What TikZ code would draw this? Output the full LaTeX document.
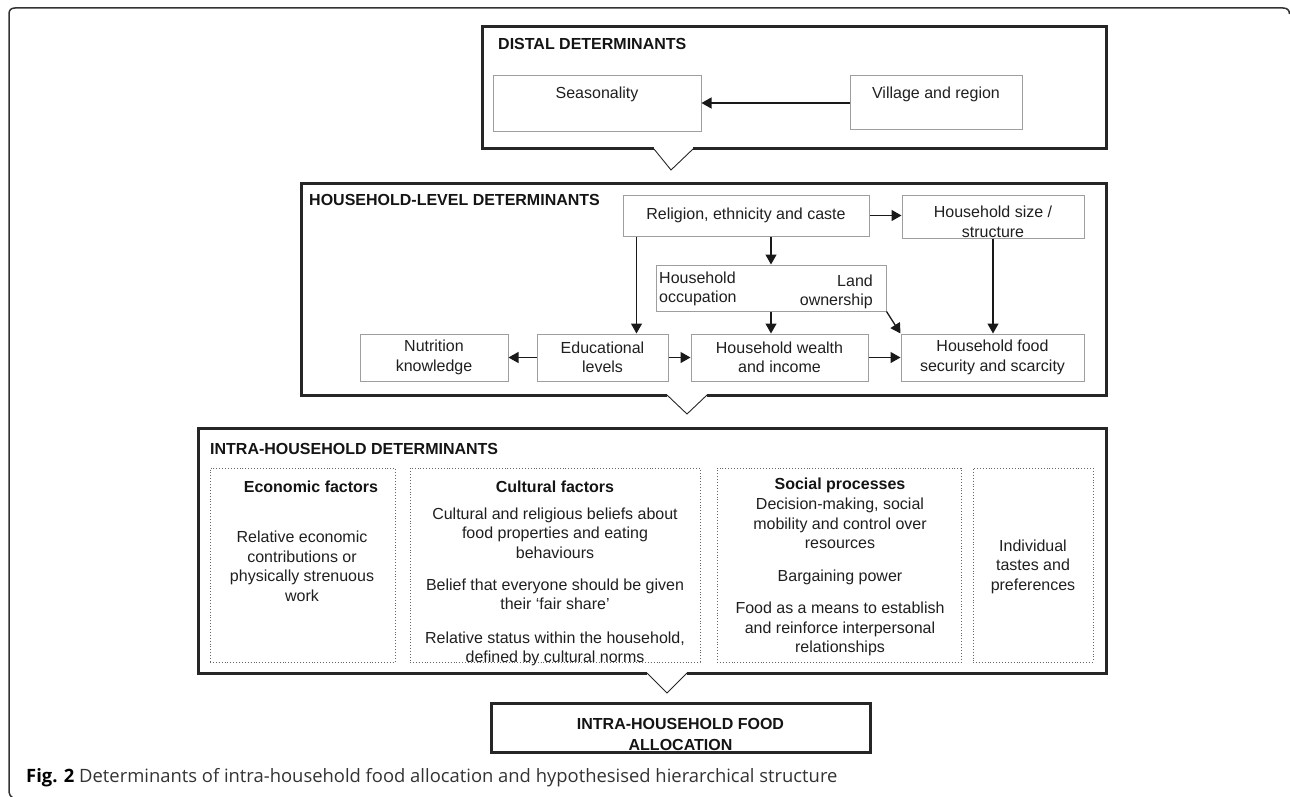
\documentclass[tikz,border=0pt]{standalone}
\usepackage{fontspec}
\setmainfont{Liberation Sans}
\newfontfamily\capfont{Open Sans}
\usetikzlibrary{arrows.meta}
\newcommand\myfs{\fontsize{16}{19.5}\selectfont}
\begin{document}
\begin{tikzpicture}[x=1pt,y=-1pt,
  frame/.style={line width=1.5pt,draw=black!80},
  lvl/.style={line width=3pt,draw=black!85},
  vee/.style={line width=0.9pt,draw=black!85},
  ibox/.style={draw=black!38,line width=1pt,inner sep=0pt,font=\myfs,align=center,text=black!88},
  dbox/.style={draw=black!60,dotted,line width=0.9pt,inner sep=0pt},
  txt/.style={font=\myfs,align=center,inner sep=0pt,text=black!88},
  btxt/.style={font=\bfseries\myfs,align=center,inner sep=0pt,text=black!92},
  hd/.style={font=\bfseries\myfs,anchor=west,inner sep=0pt,text=black!92},
  arr/.style={line width=1.3pt,draw=black!90,-{Triangle[length=10pt,width=11pt]}},
]
\useasboundingbox (0,0) rectangle (1290,797);

% outer frame
\draw[frame] (1289.5,14) .. controls (1289.5,10) and (1287,8) .. (1283,8) -- (15,8)
  .. controls (11,8) and (9,10) .. (9,14) -- (9,790) .. controls (9,794) and (10,796) .. (13,798);

% ---------------- distal
\draw[lvl] (654,149) -- (482,149) -- (482,27) -- (1106,27) -- (1106,149) -- (693,149);
\draw[vee] (654,149) -- (671,170) -- (693,149);
\node[hd] (hdist) at (498,44) {DISTAL DETERMINANTS};
\node[ibox,minimum width=208pt,minimum height=56pt] (sea) at (597,104) {};
\node[txt] (seat) at (597,94) {Seasonality};
\node[ibox,minimum width=172pt,minimum height=54pt] (vil) at (936,103) {};
\node[txt] (vilt) at (936,94) {Village and region};
\draw[arr] (vil.west) -- (vil.west -| sea.east);

% ---------------- household level
\draw[lvl] (667,395) -- (301,395) -- (301,183) -- (1106,183) -- (1106,395) -- (707,395);
\draw[vee] (667,395) -- (687,414) -- (707,395);
\node[hd] (hhh) at (309,200) {HOUSEHOLD-LEVEL DETERMINANTS};
\node[ibox,minimum width=246pt,minimum height=41pt] (rel) at (746,215.5) {Religion, ethnicity and caste};
\node[ibox,minimum width=182pt,minimum height=43pt] (size) at (993,216.5) {};
\node[txt] (sizet) at (993,222) {Household size /\\structure};
\node[ibox,minimum width=230pt,minimum height=46pt] (occ) at (771,288) {};
\node[txt,align=left,anchor=west] (occl) at (659,289) {Household\\occupation};
\node[txt,align=right,anchor=east] (occr) at (873,292) {Land\\ownership};
\node[ibox,minimum width=148pt,minimum height=47pt] (nut) at (434,357.5) {Nutrition\\knowledge};
\node[ibox,minimum width=131pt,minimum height=47pt] (edu) at (602.5,357.5) {Educational\\levels};
\node[ibox,minimum width=177pt,minimum height=47pt] (wea) at (779.5,357.5) {Household wealth\\and income};
\node[ibox,minimum width=183pt,minimum height=47pt] (food) at (992.5,357.5) {Household food\\security and scarcity};

\draw[arr] (rel.east) -- (rel.east -| size.west);
\draw[arr] (rel.south -| occ.north) -- (occ.north);
\draw[arr] ([xshift=14pt]rel.south west) -- ([xshift=14pt]rel.south west |- edu.north);
\draw[arr] (occ.south) -- (occ.south |- wea.north);
\draw[arr] (occ.south east) -- (food.north west);
\draw[arr] (size.south) -- (size.south |- food.north);
\draw[arr] (edu.west) -- (nut.east);
\draw[arr] (edu.east) -- (wea.west);
\draw[arr] (wea.east) -- (food.west);

% ---------------- intra-household
\draw[lvl] (647,673) -- (198,673) -- (198,428) -- (1106,428) -- (1106,673) -- (687,673);
\draw[vee] (647,673) -- (667,693) -- (687,673);
\node[hd] (hintra) at (210,449) {INTRA-HOUSEHOLD DETERMINANTS};

\node[dbox,minimum width=185pt,minimum height=194pt] (eco) at (302.5,565) {};
\node[dbox,minimum width=290pt,minimum height=194pt] (cul) at (555,565) {};
\node[dbox,minimum width=244pt,minimum height=194pt] (soc) at (839,565) {};
\node[dbox,minimum width=120pt,minimum height=194pt] (ind) at (1033,565) {};

\node[btxt] (ecoh) at (311,487) {Economic factors};
\node[txt] (ecot) at (302,566.5) {Relative economic\\contributions or\\physically strenuous\\work};

\node[btxt] (culh) at (555,487) {Cultural factors};
\node[txt] (cul1) at (555,533) {Cultural and religious beliefs about\\food properties and eating\\behaviours};
\node[txt] (cul2) at (555,594.5) {Belief that everyone should be given\\their ‘fair share’};
\node[txt] (cul3) at (555,649) {Relative status within the household,\\defined by cultural norms};

\node[btxt] (soch) at (840,485) {Social processes};
\node[txt] (soc1) at (840,523.5) {Decision-making, social\\mobility and control over\\resources};
\node[txt] (soc2) at (840,577) {Bargaining power};
\node[txt] (soc3) at (840,629) {Food as a means to establish\\and reinforce interpersonal\\relationships};

\node[txt] (indt) at (1033,566.5) {Individual\\tastes and\\preferences};

% ---------------- outcome
\node[btxt,font=\bfseries\fontsize{16}{21}\selectfont] (fint) at (680.5,734) {INTRA-HOUSEHOLD FOOD\\ALLOCATION};
\node[draw=black!85,line width=3pt,minimum width=379pt,minimum height=49pt,inner sep=0pt] (fin) at (680.5,727.5) {};

% caption
\node[anchor=west,inner sep=0pt,font=\capfont\fontsize{18.4}{21}\selectfont,text=black!80] (cap) at (26,778)
  {\textbf{\color{black}Fig. 2} Determinants of intra-household food allocation and hypothesised hierarchical structure};
\end{tikzpicture}
\end{document}
